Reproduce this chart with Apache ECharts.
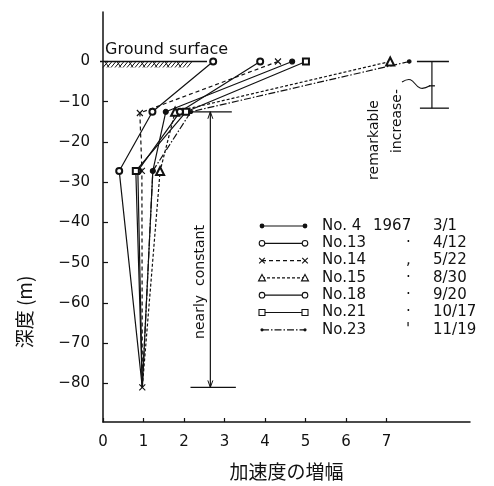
<!DOCTYPE html>
<html>
<head>
<meta charset="utf-8">
<script src="https://cdn.jsdelivr.net/npm/echarts@6/dist/echarts.min.js"></script>
<style>
  html, body { margin: 0; background: #fff; }
  #chart { width: 494px; height: 486px; }
</style>
</head>
<body>
<div id="chart"></div>
<script>
// depth (m) of the observation points, top to bottom
const depth = [0, -12.5, -27.2, -81];
const depthNo14 = [0, -12.8, -27.2, -81];

// amplification of acceleration at each depth
const ampNo4 = [4.67, 1.55, 1.23, 0.97];
const ampNo13 = [2.72, 1.22, 0.40, 0.97];
const ampNo14 = [4.32, 0.91, 0.96, 0.97];
const ampNo15 = [7.09, 1.78, 1.41, 0.97];
const ampNo18 = [3.88, 1.90, 0.86, 0.97];
const ampNo21 = [5.01, 2.05, 0.81, 0.97];
const ampNo23 = [7.56, 2.17, 1.23, 0.97];

const seriesNames = ['No. 4', 'No.13', 'No.14', 'No.15', 'No.18', 'No.21', 'No.23'];
const yearMarks = ['1967', '·', ',', '·', '·', '·', '\''];
const dates = ['3/1', '4/12', '5/22', '8/30', '9/20', '10/17', '11/19'];

const xTicks = [0, 1, 2, 3, 4, 5, 6, 7];
const yTicks = [0, -10, -20, -30, -40, -50, -60, -70, -80];

const INK = '#111';
const FONT = 'DejaVu Sans';

// line look for each record; only No.14 shows its mark at the bottom point
const styles = [
    { symbol: 'circle', size: 5, dash: 'solid', key: 'dot', z: 4, bottomMark: false },
    { symbol: 'emptyCircle', size: 6, dash: 'solid', key: 'circle', z: 3, bottomMark: false },
    { symbol: 'path://M0,0L10,10M10,0L0,10', size: 6, dash: [4, 3], key: 'x', z: 5, bottomMark: true },
    { symbol: 'emptyTriangle', size: 8, dash: [3, 2], key: 'tri', z: 3, bottomMark: false },
    { symbol: 'emptyCircle', size: 6, dash: 'solid', key: 'circle', z: 3, bottomMark: false },
    { symbol: 'emptyRect', size: 6, dash: 'solid', key: 'rect', z: 3, bottomMark: false },
    { symbol: 'circle', size: 3.5, dash: [7, 2, 1.5, 2], key: 'small', z: 3, bottomMark: false }
];

const zip = (xs, ys) => xs.map((v, i) => [v, ys[i]]);
const records = [
    zip(ampNo4, depth),
    zip(ampNo13, depth),
    zip(ampNo14, depthNo14),
    zip(ampNo15, depth),
    zip(ampNo18, depth),
    zip(ampNo21, depth),
    zip(ampNo23, depth)
];

const chart = echarts.init(document.getElementById('chart'));

const option = {
    animation: false,
    backgroundColor: '#fff',
    grid: { left: 103, top: 12, width: 367, height: 413 },
    xAxis: {
        type: 'value',
        min: 0,
        max: 9.06,
        name: '加速度の増幅',
        nameLocation: 'middle',
        nameGap: 40,
        nameTextStyle: { fontFamily: 'Noto Sans CJK JP', fontSize: 19, color: INK },
        axisLine: { onZero: false, lineStyle: { color: INK, width: 1.5 } },
        axisTick: { inside: true, length: 4, customValues: xTicks, lineStyle: { color: INK, width: 1.2 } },
        axisLabel: { customValues: xTicks, fontFamily: FONT, fontSize: 15, color: INK, margin: 13 },
        splitLine: { show: false }
    },
    yAxis: {
        type: 'value',
        min: -89.6,
        max: 12.3,
        axisLine: { onZero: false, lineStyle: { color: INK, width: 1.5 } },
        axisTick: { inside: true, length: 5, customValues: yTicks, lineStyle: { color: INK, width: 1.2 } },
        axisLabel: {
            customValues: yTicks,
            fontFamily: FONT, fontSize: 15, color: INK, margin: 13,
            formatter: v => (v === 0 ? '0' : '\u2212' + Math.abs(v))
        },
        splitLine: { show: false }
    },
    series: records.map((data, i) => ({
        name: seriesNames[i],
        type: 'line',
        data: data.map((p, k) => (k === data.length - 1 && !styles[i].bottomMark)
            ? { value: p, symbol: 'none' } : p),
        z: styles[i].z,
        symbol: styles[i].symbol,
        symbolSize: styles[i].size,
        showAllSymbol: true,
        lineStyle: { color: INK, width: 1.2, type: styles[i].dash },
        itemStyle: { color: INK, borderColor: INK, borderWidth: 1.1 }
    }))
};

chart.setOption(option);

// ---- annotations and hand-drawn legend ----
const px = (x, y) => chart.convertToPixel({ gridIndex: 0 }, [x, y]);
const g = [];
const seg = (a, b, extra) => g.push({
    type: 'line', silent: true,
    shape: { x1: a[0], y1: a[1], x2: b[0], y2: b[1] },
    style: Object.assign({ stroke: INK, lineWidth: 1.3 }, extra || {})
});
const txt = (x, y, s, o) => g.push({
    type: 'text', silent: true, x: x, y: y, rotation: (o && o.rot) || 0,
    style: {
        text: s, fill: INK, fontFamily: (o && o.font) || FONT, fontSize: (o && o.size) || 15,
        align: (o && o.align) || 'left', verticalAlign: 'middle'
    }
});

// ground surface
const g0 = px(0, 0);
seg([g0[0] - 3, g0[1]], [207, g0[1]], { lineWidth: 1.5 });
for (let x = g0[0]; x < 188; x += 4) {
    seg([x, g0[1] + 6], [x + 5, g0[1]], { lineWidth: 1 });
}
for (let x = g0[0] + 2; x < 188; x += 12) {
    seg([x, g0[1]], [x + 4, g0[1] + 6], { lineWidth: 1 });
}
txt(105, 50, 'Ground surface', { size: 16 });

// nearly constant bracket
const nTop = px(2.65, -12.5), nBot = px(2.65, -81);
seg(px(2.08, -12.5), px(3.18, -12.5));
seg(px(2.16, -81), px(3.28, -81));
seg(nTop, nBot, { lineWidth: 1.2 });
seg(nTop, [nTop[0] - 2.5, nTop[1] + 7], { lineWidth: 1 });
seg(nTop, [nTop[0] + 2.5, nTop[1] + 7], { lineWidth: 1 });
seg(nBot, [nBot[0] - 2.5, nBot[1] - 7], { lineWidth: 1 });
seg(nBot, [nBot[0] + 2.5, nBot[1] - 7], { lineWidth: 1 });
txt(nTop[0] - 10, 282, 'nearly  constant', { rot: Math.PI / 2, align: 'center', size: 14 });

// remarkable increase bracket
const rTop = px(8.12, 0), rBot = px(8.12, -11.6);
seg(rTop, rBot, { lineWidth: 1.2 });
seg([rTop[0] - 15, rTop[1]], [rTop[0] + 17, rTop[1]]);
seg([rBot[0] - 12, rBot[1]], [rBot[0] + 17, rBot[1]]);
seg([rTop[0] - 3, (rTop[1] + rBot[1]) / 2 + 1], [rTop[0] + 3, (rTop[1] + rBot[1]) / 2 + 1]);
g.push({
    type: 'bezierCurve', silent: true,
    shape: { x1: 402, y1: 82, x2: rTop[0] - 2, y2: (rTop[1] + rBot[1]) / 2 + 1, cpx1: 418, cpy1: 72, cpx2: 412, cpy2: 96 },
    style: { stroke: INK, lineWidth: 1.1, fill: null }
});
txt(374, 140, 'remarkable', { rot: Math.PI / 2, align: 'center', size: 14 });
txt(397, 121, 'increase-', { rot: Math.PI / 2, align: 'center', size: 14 });

// y axis title
txt(25, 312, '深度 (m)', { rot: Math.PI / 2, align: 'center', size: 19, font: 'Noto Sans CJK JP' });

// legend rows
const drawMark = (key, cx, cy) => {
    const st = { stroke: INK, fill: '#fff', lineWidth: 1.1 };
    if (key === 'circle') g.push({ type: 'circle', silent: true, shape: { cx, cy, r: 2.8 }, style: st });
    if (key === 'dot') g.push({ type: 'circle', silent: true, shape: { cx, cy, r: 2.4 }, style: { fill: INK } });
    if (key === 'small') g.push({ type: 'circle', silent: true, shape: { cx, cy, r: 1.6 }, style: { fill: INK } });
    if (key === 'rect') g.push({ type: 'rect', silent: true, shape: { x: cx - 3, y: cy - 3, width: 6, height: 6 }, style: st });
    if (key === 'tri') g.push({ type: 'polygon', silent: true, shape: { points: [[cx, cy - 3.5], [cx + 3.5, cy + 3], [cx - 3.5, cy + 3]] }, style: st });
    if (key === 'x') {
        seg([cx - 2.8, cy - 2.8], [cx + 2.8, cy + 2.8], { lineWidth: 1.1 });
        seg([cx + 2.8, cy - 2.8], [cx - 2.8, cy + 2.8], { lineWidth: 1.1 });
    }
};
seriesNames.forEach((name, i) => {
    const y = 226 + 17.3 * i;
    seg([262, y], [305, y], { lineWidth: 1.2, lineDash: styles[i].dash === 'solid' ? null : styles[i].dash });
    drawMark(styles[i].key, 262, y);
    drawMark(styles[i].key, 305, y);
    txt(322, y, name, { size: 15 });
    txt(i === 0 ? 373 : 406, y, yearMarks[i], { size: 15 });
    txt(433, y, dates[i], { size: 15 });
});

chart.setOption({ graphic: { elements: g } });
</script>
</body>
</html>
